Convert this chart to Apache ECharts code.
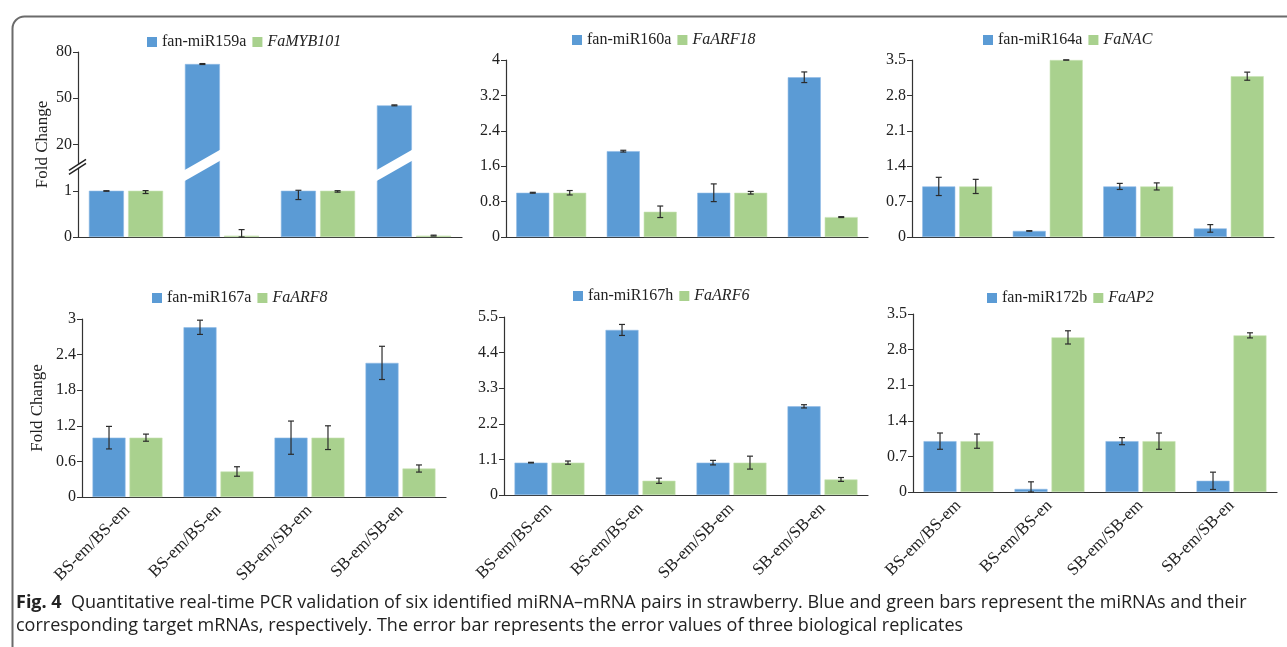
<!DOCTYPE html>
<html><head><meta charset="utf-8">
<script src="https://cdn.jsdelivr.net/npm/echarts@6/dist/echarts.min.js"></script>
<style>html,body{margin:0;padding:0;background:#fff}#c{width:1287px;height:647px}</style>
</head><body><div id="c"></div>
<script>
// ---------- data ----------
const categories = ['BS-em/BS-em', 'BS-em/BS-en', 'SB-em/SB-em', 'SB-em/SB-en'];
const mirNames = ['fan-miR159a', 'fan-miR160a', 'fan-miR164a', 'fan-miR167a', 'fan-miR167h', 'fan-miR172b'];
const targetNames = ['FaMYB101', 'FaARF18', 'FaNAC', 'FaARF8', 'FaARF6', 'FaAP2'];

const mir159a = [1.0, 72.2, 1.0, 45.4];
const mir159aErr = [0.01, 0.3, 0.19, 0.3];
const myb101 = [1.0, 0.03, 1.0, 0.03];
const myb101Err = [0.06, 0.13, 0.03, 0.01];

const mir160a = [1.0, 1.94, 1.0, 3.61];
const mir160aErr = [0.01, 0.02, 0.2, 0.12];
const arf18 = [1.0, 0.57, 1.0, 0.45];
const arf18Err = [0.05, 0.13, 0.03, 0.01];

const mir164a = [1.0, 0.12, 1.0, 0.17];
const mir164aErr = [0.18, 0.005, 0.06, 0.075];
const nac = [1.0, 3.5, 1.0, 3.18];
const nacErr = [0.14, 0, 0.07, 0.08];

const mir167a = [1.0, 2.86, 1.0, 2.26];
const mir167aErr = [0.19, 0.12, 0.28, 0.28];
const arf8 = [1.0, 0.43, 1.0, 0.48];
const arf8Err = [0.06, 0.08, 0.2, 0.06];

const mir167h = [1.0, 5.1, 1.0, 2.74];
const mir167hErr = [0.01, 0.17, 0.07, 0.05];
const arf6 = [1.0, 0.44, 1.0, 0.48];
const arf6Err = [0.05, 0.08, 0.2, 0.06];

const mir172b = [1.0, 0.06, 1.0, 0.22];
const mir172bErr = [0.16, 0.14, 0.07, 0.17];
const ap2 = [1.0, 3.04, 1.0, 3.08];
const ap2Err = [0.14, 0.13, 0.16, 0.05];

// broken-axis tick labels of panel 1 (display positions 0..4)
const brokenTicks = [0, 1, 20, 50, 80];
const yMax = [4, 4, 3.5, 3, 5.5, 3.5];
const yInterval = [1, 0.8, 0.7, 0.6, 1.1, 0.7];

const captionLine1 = 'Quantitative real-time PCR validation of six identified miRNA\u2013mRNA pairs in strawberry. Blue and green bars represent the miRNAs and their';
const captionLine2 = 'corresponding target mRNAs, respectively. The error bar represents the error values of three biological replicates';

// ---------- layout / style ----------
const BLUE = '#5b9bd5', GREEN = '#a9d18e';
const SERIF = '"Liberation Serif", "DejaVu Serif", serif';
const SANS = '"Open Sans", "Noto Sans", sans-serif';
const grids = [
  {left: 78, top: 52, width: 384, height: 185},
  {left: 506, top: 60, width: 362, height: 177},
  {left: 912, top: 60, width: 362, height: 177},
  {left: 82, top: 319, width: 364, height: 178},
  {left: 504, top: 317, width: 364, height: 178},
  {left: 913, top: 314, width: 364, height: 178}
];
const legendPos = [[147, 34], [572, 32], [983, 32], [152, 290], [573, 288], [987, 290]];
const barW = [35, 33, 33, 33, 33, 33];
const gapRatio = 0.12;

// piecewise scale of the broken axis in panel 1
function brk(v) {
  if (v <= 1) return v;
  if (v <= 20) return 1 + (v - 1) / 19;
  if (v <= 50) return 2 + (v - 20) / 30;
  return 3 + (v - 50) / 30;
}

const panels = [
  {mir: mir159a, mirErr: mir159aErr, tg: myb101, tgErr: myb101Err, broken: true},
  {mir: mir160a, mirErr: mir160aErr, tg: arf18, tgErr: arf18Err},
  {mir: mir164a, mirErr: mir164aErr, tg: nac, tgErr: nacErr},
  {mir: mir167a, mirErr: mir167aErr, tg: arf8, tgErr: arf8Err},
  {mir: mir167h, mirErr: mir167hErr, tg: arf6, tgErr: arf6Err},
  {mir: mir172b, mirErr: mir172bErr, tg: ap2, tgErr: ap2Err}
];

const option = {
  animation: false,
  backgroundColor: '#fff',
  grid: grids.map(g => Object.assign({containLabel: false}, g)),
  xAxis: [], yAxis: [], legend: [], series: [],
  graphic: []
};

function errSeries(i, vals, errs, sign, tf) {
  const off = sign * barW[i] * (1 + gapRatio) / 2;
  return {
    type: 'custom', xAxisIndex: i, yAxisIndex: i, silent: true, z: 5, clip: false,
    data: vals.map((v, k) => [k, v, errs[k]]),
    renderItem: function (params, api) {
      const k = api.value(0), v = api.value(1), e = api.value(2);
      const hi = tf(v + e), lo = tf(Math.max(0, v - e));
      const p1 = api.coord([k, hi]), p2 = api.coord([k, lo]);
      const x = p1[0] + off, cap = 3;
      const st = {stroke: '#2b2b2b', lineWidth: 1.2};
      return {type: 'group', children: [
        {type: 'line', shape: {x1: x, y1: p1[1], x2: x, y2: p2[1]}, style: st},
        {type: 'line', shape: {x1: x - cap, y1: p1[1], x2: x + cap, y2: p1[1]}, style: st},
        {type: 'line', shape: {x1: x - cap, y1: p2[1], x2: x + cap, y2: p2[1]}, style: st}
      ]};
    }
  };
}

panels.forEach((p, i) => {
  const bottom = i >= 3;
  const tf = p.broken ? brk : (v => v);
  option.xAxis.push({
    type: 'category', gridIndex: i, data: categories,
    axisLine: {lineStyle: {color: '#333', width: 1.2}},
    axisTick: {alignWithLabel: true, length: 5, lineStyle: {color: '#333'}},
    axisLabel: bottom ? {rotate: 45, fontFamily: SERIF, fontSize: 17, color: '#222', margin: 11} : {show: false}
  });
  option.yAxis.push({
    type: 'value', gridIndex: i, min: 0, max: yMax[i], interval: yInterval[i],
    name: (i === 0 || i === 3) ? 'Fold Change' : '',
    nameLocation: 'middle', nameGap: i === 0 ? 27 : 36,
    nameTextStyle: {fontFamily: SERIF, fontSize: 17, color: '#222'},
    axisLine: {show: true, lineStyle: {color: '#333', width: 1.2}},
    axisTick: {show: true, length: 5, lineStyle: {color: '#333'}},
    splitLine: {show: false},
    axisLabel: {fontFamily: SERIF, fontSize: 16, color: '#222', margin: 6,
      formatter: p.broken ? (v => String(brokenTicks[Math.round(v)])) : (v => String(+v.toFixed(2)))}
  });
  option.legend.push({
    left: legendPos[i][0], top: legendPos[i][1], padding: 0,
    data: [mirNames[i], targetNames[i]],
    itemWidth: 10, itemHeight: 10, itemGap: 6, icon: 'rect',
    itemStyle: {borderWidth: 0},
    textStyle: {fontFamily: SERIF, fontSize: 16, color: '#222',
      rich: {i: {fontFamily: SERIF, fontSize: 16, fontStyle: 'italic', color: '#222'}}},
    formatter: name => targetNames.includes(name) ? '{i|' + name + '}' : name
  });
  option.series.push({
    name: mirNames[i], type: 'bar', xAxisIndex: i, yAxisIndex: i,
    barWidth: barW[i], barGap: (gapRatio * 100) + '%',
    itemStyle: {color: BLUE, borderColor: '#8fbbe6', borderWidth: 0.6},
    data: p.mir.map(tf)
  });
  option.series.push({
    name: targetNames[i], type: 'bar', xAxisIndex: i, yAxisIndex: i,
    barWidth: barW[i], barGap: (gapRatio * 100) + '%',
    itemStyle: {color: GREEN, borderColor: '#c8e3b4', borderWidth: 0.6},
    data: p.tg.map(tf)
  });
  option.series.push(errSeries(i, p.mir, p.mirErr, -1, tf));
  option.series.push(errSeries(i, p.tg, p.tgErr, 1, tf));
});

// bar-break bands on panel 1 (bars above the axis break)
const breakAt = 1.55;
option.series.push({
  type: 'custom', xAxisIndex: 0, yAxisIndex: 0, silent: true, z: 4, clip: false,
  data: mir159a.map((v, k) => [k, v]).filter(d => d[1] > 20).map(d => [d[0], breakAt]),
  renderItem: function (params, api) {
    const c = api.coord([api.value(0), api.value(1)]);
    const cx = c[0] - barW[0] * (1 + gapRatio) / 2, yc = c[1];
    const hw = barW[0] / 2 + 2, k = 20 / 35, t = 5.5;
    const xl = cx - hw, xr = cx + hw;
    return {type: 'polygon', shape: {points: [
      [xl, yc + k * hw - t], [xr, yc - k * hw - t], [xr, yc - k * hw + t], [xl, yc + k * hw + t]
    ]}, style: {fill: '#fff'}};
  }
});
// axis-break mark on panel 1 y axis
option.series.push({
  type: 'custom', xAxisIndex: 0, yAxisIndex: 0, silent: true, z: 6, clip: false,
  data: [[0, breakAt]],
  renderItem: function (params, api) {
    const yc = api.coord([api.value(0), api.value(1)])[1];
    const x = params.coordSys.x;
    const st = {stroke: '#222', lineWidth: 1.5};
    return {type: 'group', children: [
      {type: 'polygon', shape: {points: [[x - 9, yc + 5], [x + 8, yc - 6], [x + 8, yc - 2], [x - 9, yc + 9]]}, style: {fill: '#fff'}},
      {type: 'line', shape: {x1: x - 9, y1: yc + 5, x2: x + 8, y2: yc - 6}, style: st},
      {type: 'line', shape: {x1: x - 9, y1: yc + 9, x2: x + 8, y2: yc - 2}, style: st}
    ]};
  }
});

// frame and caption
option.graphic = [
  {type: 'rect', left: 10, top: 14, shape: {x: 0, y: 0, width: 1320, height: 700, r: [12, 0, 0, 0]},
   style: {fill: 'none', stroke: '#6b6b6b', lineWidth: 2}, silent: true, z: -1},
  {type: 'text', left: 16, top: 594, style: {
    text: '{b|Fig. 4}  ' + captionLine1,
    rich: {b: {fontFamily: SANS, fontWeight: 'bold', fontSize: 18, fill: '#222'}},
    fontFamily: SANS, fontSize: 18, fill: '#222'}},
  {type: 'text', left: 16, top: 617, style: {
    text: captionLine2, fontFamily: SANS, fontSize: 18, fill: '#222'}}
];

const chart = echarts.init(document.getElementById('c'), null, {renderer: 'canvas'});
chart.setOption(option);
</script>
</body></html>
